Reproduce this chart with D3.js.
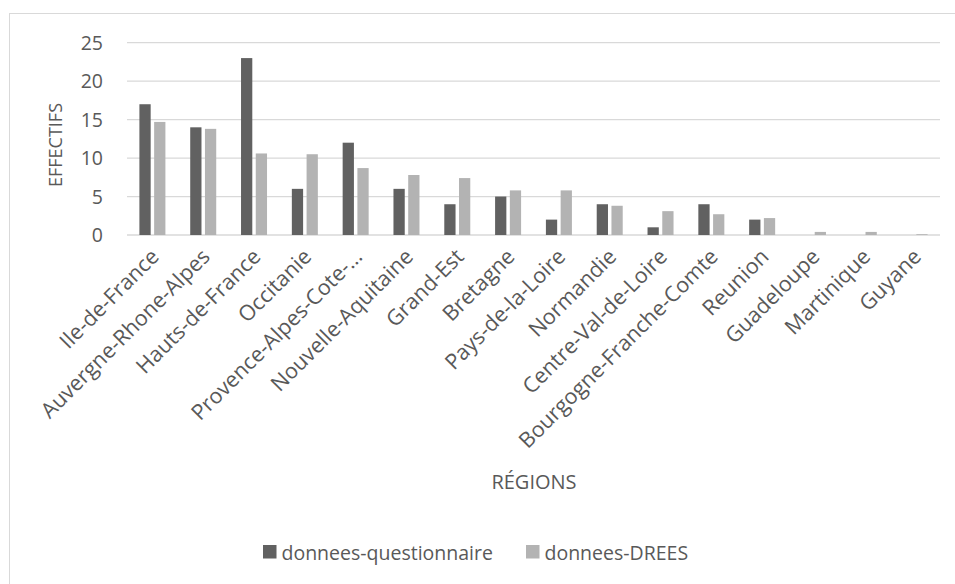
<!DOCTYPE html>
<html>
<head>
<meta charset="utf-8">
<script src="https://cdn.jsdelivr.net/npm/d3@7"></script>
<style>
  body { margin: 0; background: #fff; }
  svg { display: block; font-family: "Open Sans", sans-serif; }
</style>
</head>
<body>
<div id="chart"></div>
<script>
const regions = ['Ile-de-France', 'Auvergne-Rhone-Alpes', 'Hauts-de-France', 'Occitanie',
  'Provence-Alpes-Cote-…', 'Nouvelle-Aquitaine', 'Grand-Est', 'Bretagne', 'Pays-de-la-Loire',
  'Normandie', 'Centre-Val-de-Loire', 'Bourgogne-Franche-Comte', 'Reunion', 'Guadeloupe',
  'Martinique', 'Guyane'];
const questionnaire = [17, 14, 23, 6, 12, 6, 4, 5, 2, 4, 1, 4, 2, 0, 0, 0];
const drees = [14.7, 13.8, 10.6, 10.5, 8.7, 7.8, 7.4, 5.8, 5.8, 3.8, 3.1, 2.7, 2.2, 0.4, 0.4, 0.1];
const seriesNames = ['donnees-questionnaire', 'donnees-DREES'];
const yTicks = [0, 5, 10, 15, 20, 25];

const width = 955;
const height = 584;
const plotLeft = 127, plotRight = 940, plotTop = 42.7, plotBottom = 235;
const colors = ['#616161', '#b3b3b3'];
const textColor = '#595959';
const gridColor = '#d9d9d9';
const fontSize = '19.5px';

const svg = d3.select('#chart')
  .append('svg')
  .attr('width', width)
  .attr('height', height);

// chart area border
svg.append('rect')
  .attr('x', 9.5)
  .attr('y', 13.5)
  .attr('width', 960)
  .attr('height', 590)
  .attr('fill', 'none')
  .attr('stroke', gridColor);

const x = d3.scaleBand()
  .domain(regions)
  .range([plotLeft, plotRight]);

const x1 = d3.scaleBand()
  .domain(seriesNames)
  .range([-13, 13])
  .paddingInner(0.236);

const y = d3.scaleLinear()
  .domain([0, 25])
  .range([plotBottom, plotTop]);

// gridlines
svg.append('g')
  .selectAll('line')
  .data(yTicks)
  .enter()
  .append('line')
  .attr('x1', plotLeft)
  .attr('x2', plotRight)
  .attr('y1', d => y(d))
  .attr('y2', d => y(d))
  .attr('stroke', gridColor)
  .attr('stroke-width', 1.3);

const yAxis = d3.axisLeft(y).tickValues(yTicks).tickSize(0).tickPadding(0);
const gy = svg.append('g')
  .attr('transform', 'translate(103, 0)')
  .call(yAxis)
  .attr('font-family', null)
  .attr('font-size', null);
gy.select('.domain').remove();
gy.selectAll('text')
  .attr('fill', textColor)
  .style('font-size', fontSize)
  .attr('dy', '0.35em');

// bars
const rows = regions.map((r, i) => ({ region: r, values: [questionnaire[i], drees[i]] }));

const groups = svg.append('g')
  .selectAll('g')
  .data(rows)
  .enter()
  .append('g')
  .attr('transform', d => 'translate(' + (x(d.region) + x.bandwidth() / 2) + ', 0)');

groups.selectAll('rect')
  .data(d => d.values.map((v, k) => ({ key: seriesNames[k], value: v, k: k })))
  .enter()
  .append('rect')
  .attr('x', d => x1(d.key))
  .attr('width', x1.bandwidth())
  .attr('y', d => y(d.value))
  .attr('height', d => y(0) - y(d.value))
  .attr('fill', d => colors[d.k]);

// x labels
const xAxis = d3.axisBottom(x).tickSize(0).tickPadding(0);
const gx = svg.append('g')
  .attr('transform', 'translate(0, ' + plotBottom + ')')
  .call(xAxis)
  .attr('font-family', null)
  .attr('font-size', null);
gx.select('.domain').remove();
gx.selectAll('text')
  .attr('fill', textColor)
  .style('font-size', '21.5px')
  .attr('text-anchor', 'end')
  .attr('dy', null)
  .attr('y', null)
  .attr('transform', 'translate(8, 23) rotate(-45)');

// axis titles
svg.append('text')
  .attr('transform', 'translate(62, 145) rotate(-90)')
  .attr('text-anchor', 'middle')
  .attr('fill', textColor)
  .style('font-size', '18px')
  .text('EFFECTIFS');

svg.append('text')
  .attr('x', 534)
  .attr('y', 489)
  .attr('text-anchor', 'middle')
  .attr('fill', textColor)
  .style('font-size', '20px')
  .text('RÉGIONS');

// legend
const legendX = [263, 526];
const legend = svg.append('g').attr('id', 'legend');
seriesNames.forEach((name, i) => {
  legend.append('rect')
    .attr('x', legendX[i])
    .attr('y', 545)
    .attr('width', 13.5)
    .attr('height', 13.5)
    .attr('fill', colors[i]);
  legend.append('text')
    .attr('x', legendX[i] + 18.5)
    .attr('y', 559.5)
    .attr('fill', textColor)
    .style('font-size', fontSize)
    .text(name);
});
</script>
</body>
</html>
